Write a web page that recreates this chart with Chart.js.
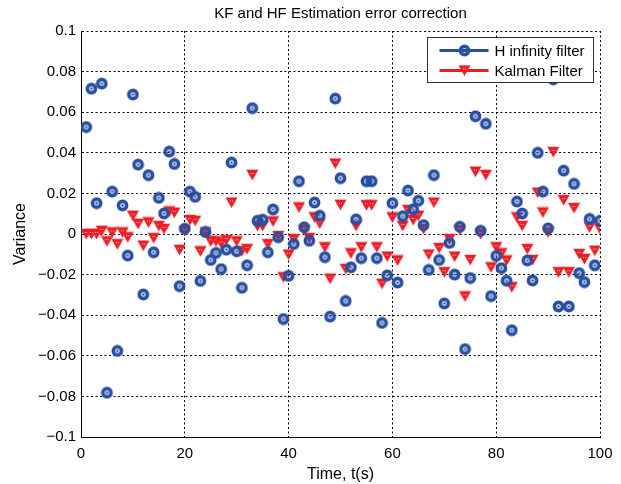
<!DOCTYPE html>
<html>
<head>
<meta charset="utf-8">
<script src="https://cdn.jsdelivr.net/npm/chart.js@4.4.1/dist/chart.umd.min.js"></script>
<style>
  html, body { margin: 0; padding: 0; background: #fff; }
  #wrap { width: 621px; height: 484px; }
</style>
</head>
<body>
<div id="wrap"><canvas id="errChart"></canvas></div>
<script>
// time samples, t(s)
const times = [
  1, 2, 3, 4, 5, 6, 7, 8, 9, 10, 11, 12, 13, 14, 15, 16, 17, 18, 19, 20,
  21, 22, 23, 24, 25, 26, 27, 28, 29, 30, 31, 32, 33, 34, 35, 36, 37, 38, 39, 40,
  41, 42, 43, 44, 45, 46, 47, 48, 49, 50, 51, 52, 53, 54, 55, 56, 57, 58, 59, 60,
  61, 62, 63, 64, 65, 66, 67, 68, 69, 70, 71, 72, 73, 74, 75, 76, 77, 78, 79, 80,
  81, 82, 83, 84, 85, 86, 87, 88, 89, 90, 91, 92, 93, 94, 95, 96, 97, 98, 99, 100
];

const hInfinity = [
  0.0527, 0.0716, 0.0152, 0.0741, -0.0782, 0.0209, -0.0576, 0.0141, -0.0106, 0.0687,
  0.0342, -0.0298, 0.029, -0.009, 0.0178, 0.0101, 0.0406, 0.0345, -0.0257, 0.0026,
  0.0209, 0.0183, -0.0231, 0.001, -0.0128, -0.0093, -0.0173, -0.0077, 0.0352, -0.0085,
  -0.0265, -0.0154, 0.062, 0.0065, 0.007, -0.009, 0.0121, -0.0016, -0.0419, -0.0206,
  -0.0049, 0.026, 0.0033, -0.0033, 0.0155, 0.009, -0.0114, -0.0407, 0.0667, 0.0275,
  -0.033, -0.0164, 0.0072, -0.0119, 0.026, 0.026, -0.0119, -0.0438, -0.0204, 0.0152,
  -0.0239, 0.0088, 0.0214, 0.0121, 0.0164, 0.0044, -0.0177, 0.029, -0.0128, -0.0342,
  -0.0044, -0.02, 0.0036, -0.0567, -0.0217, 0.058, 0.0016, 0.0543, -0.0306, -0.0108,
  -0.0168, -0.023, -0.0474, 0.016, 0.0101, -0.013, -0.0229, 0.04, 0.0209, 0.0028,
  0.0762, -0.0357, 0.0312, -0.0357, 0.0247, -0.0193, -0.0237, 0.0074, -0.0154, 0.0065
];

const kalman = [
  0.0, 0.0, 0.0, 0.0016, -0.0036, 0.0008, -0.005, 0.0008, -0.0016, 0.009,
  0.005, -0.0057, 0.0057, -0.002, 0.004, 0.0025, 0.0111, 0.0105, -0.0078, 0.0016,
  0.0069, 0.0065, -0.0085, 0.0008, -0.0036, -0.0036, -0.0046, -0.003, 0.0155, -0.0036,
  -0.0085, -0.0074, 0.0291, 0.004, 0.004, -0.005, 0.0062, -0.001, -0.0213, -0.0101,
  -0.0025, 0.0131, 0.002, -0.002, 0.0082, 0.0052, -0.0065, -0.022, 0.0347, 0.0144,
  -0.0172, -0.0095, 0.004, -0.0065, 0.0142, 0.0142, -0.0065, -0.0245, -0.0111, 0.0082,
  -0.013, 0.004, 0.0118, 0.0069, 0.009, 0.0025, -0.0101, 0.0155, -0.0069, -0.0188,
  -0.0025, -0.0111, 0.002, -0.0307, -0.0128, 0.0307, 0.0, 0.0291, -0.0164, -0.0065,
  -0.0095, -0.013, -0.0262, 0.0082, 0.004, -0.0074, -0.0128, 0.0204, 0.0106, 0.0008,
  0.0404, -0.0188, 0.0167, -0.0188, 0.0128, -0.0098, -0.0123, 0.0033, -0.0082, 0.0025
];

const seriesNames = ['H infinity filter', 'Kalman Filter'];
const xTicks = [0, 20, 40, 60, 80, 100];
const yTicks = [-0.1, -0.08, -0.06, -0.04, -0.02, 0, 0.02, 0.04, 0.06, 0.08, 0.1];
const yTickLabels = ['\u22120.1', '\u22120.08', '\u22120.06', '\u22120.04', '\u22120.02', '0',
                     '0.02', '0.04', '0.06', '0.08', '0.1'];

const BLUE = '#284fa2';
const RED = '#ee1d25';
const FONT = 'Liberation Sans, Arial, Helvetica, sans-serif';

// matlab-ish markers drawn once into small canvases
function ringMarker(color) {
    const c = document.createElement('canvas');
    c.width = 13; c.height = 13;
    const g = c.getContext('2d');
    g.strokeStyle = color;
    g.lineWidth = 3.6;
    g.beginPath(); g.arc(6.5, 6.5, 4.1, 0, Math.PI * 2); g.stroke();
    g.fillStyle = color;
    g.beginPath(); g.arc(6.5, 6.5, 1.2, 0, Math.PI * 2); g.fill();
    return c;
}

function triMarker(color) {
    const c = document.createElement('canvas');
    c.width = 13; c.height = 12;
    const g = c.getContext('2d');
    g.fillStyle = color;
    g.beginPath(); g.moveTo(0.4, 0.8); g.lineTo(12.6, 0.8); g.lineTo(6.5, 11.4); g.closePath(); g.fill();
    g.fillStyle = '#fbd0d0';
    g.fillRect(5, 4, 1, 1);
    g.fillRect(7, 4, 1, 1);
    return c;
}

const hMark = ringMarker(BLUE);
const kMark = triMarker(RED);

const toPoints = vals => vals.map((v, i) => ({ x: times[i], y: v }));

// legend box sitting inside the axes, like matlab's 'NorthEast'
const insideLegend = {
    id: 'insideLegend',
    afterDatasetsDraw(chart) {
        const ctx = chart.ctx;
        const a = chart.chartArea;
        const w = 166, h = 45;
        const bx = Math.round(a.right - 7 - w) + 0.5;
        const by = Math.round(a.top + 6) + 0.5;
        ctx.save();
        ctx.fillStyle = '#fff';
        ctx.fillRect(bx, by, w, h);
        ctx.strokeStyle = '#333';
        ctx.lineWidth = 1;
        ctx.strokeRect(bx, by, w, h);
        const rows = [
            { name: seriesNames[0], color: BLUE, img: hMark, y: by + 13 },
            { name: seriesNames[1], color: RED, img: kMark, y: by + 33 }
        ];
        ctx.font = '15px ' + FONT;
        ctx.textBaseline = 'middle';
        rows.forEach(r => {
            ctx.strokeStyle = r.color;
            ctx.lineWidth = 3;
            ctx.beginPath();
            ctx.moveTo(bx + 12, r.y);
            ctx.lineTo(bx + 61, r.y);
            ctx.stroke();
            ctx.drawImage(r.img, bx + 37 - r.img.width / 2, r.y - r.img.height / 2);
            ctx.fillStyle = '#000';
            ctx.fillText(r.name, bx + 67, r.y + 1);
        });
        ctx.restore();
    }
};

new Chart(document.getElementById('errChart').getContext('2d'), {
    type: 'scatter',
    data: {
        datasets: [
            {
                label: seriesNames[0],
                data: toPoints(hInfinity),
                pointStyle: hMark,
                borderColor: BLUE,
                backgroundColor: BLUE,
                showLine: false
            },
            {
                label: seriesNames[1],
                data: toPoints(kalman),
                pointStyle: kMark,
                borderColor: RED,
                backgroundColor: RED,
                showLine: false
            }
        ]
    },
    options: {
        responsive: true,
        maintainAspectRatio: false,
        animation: false,
        layout: { padding: { left: 0, right: 21, top: 0, bottom: 0 } },
        plugins: {
            legend: { display: false },
            tooltip: { enabled: false },
            title: {
                display: true,
                fullSize: false,
                text: 'KF and HF Estimation error correction',
                color: '#000',
                font: { family: FONT, size: 15, weight: 'normal' },
                padding: { top: 5, bottom: 8 }
            }
        },
        scales: {
            x: {
                type: 'linear',
                min: 0,
                max: 100,
                afterBuildTicks: s => { s.ticks = xTicks.map(v => ({ value: v })); },
                afterFit: s => { s.height = 47; },
                grid: { color: '#000', lineWidth: 1, drawTicks: false },
                border: { display: true, color: '#000', width: 1, dash: [2, 2.5] },
                ticks: {
                    color: '#000',
                    font: { family: FONT, size: 15 },
                    padding: 8,
                    maxRotation: 0
                },
                title: {
                    display: true,
                    text: 'Time, t(s)',
                    color: '#000',
                    font: { family: FONT, size: 16 },
                    padding: { top: 0, bottom: 0 }
                }
            },
            y: {
                type: 'linear',
                min: -0.1,
                max: 0.1,
                afterBuildTicks: s => { s.ticks = yTicks.map(v => ({ value: v })); },
                afterFit: s => { s.width = 81; },
                grid: { color: '#000', lineWidth: 1, drawTicks: false },
                border: { display: true, color: '#000', width: 1, dash: [2, 2.5] },
                ticks: {
                    color: '#000',
                    font: { family: FONT, size: 15 },
                    padding: 5,
                    callback: (v, i) => yTickLabels[i]
                },
                title: {
                    display: true,
                    text: 'Variance',
                    color: '#000',
                    font: { family: FONT, size: 16 },
                    padding: { top: 11, bottom: 0 }
                }
            }
        }
    },
    plugins: [insideLegend]
});
</script>
</body>
</html>
